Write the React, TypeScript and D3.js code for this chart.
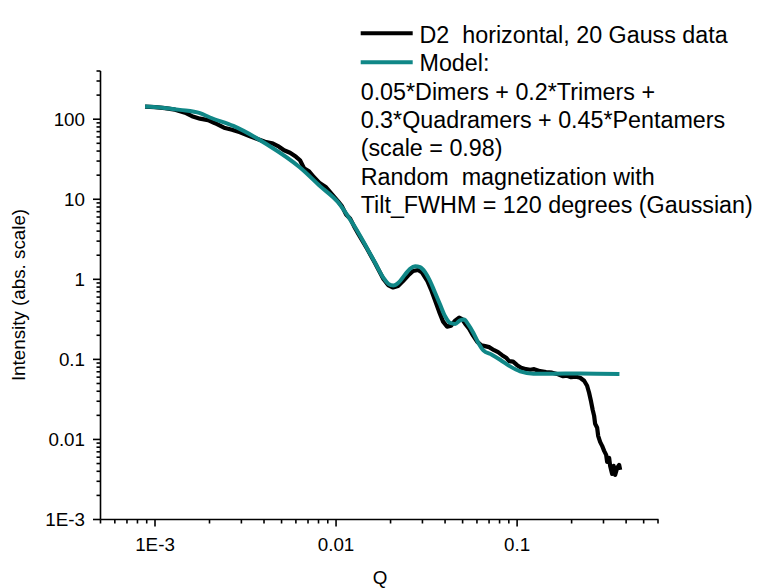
import React from "react";
import * as d3 from "d3";

// Measured data (black)
const dataQ = [
  8.81e-4, 1.0e-3, 1.136e-3, 1.29e-3, 1.464e-3, 1.601e-3, 1.772e-3, 1.963e-3, 2.145e-3, 2.405e-3,
  2.663e-3, 2.949e-3, 3.348e-3, 3.708e-3, 4.052e-3, 4.43e-3, 4.842e-3, 5.161e-3, 5.569e-3, 6.012e-3,
  6.323e-3, 6.652e-3, 7.09e-3, 7.557e-3, 8.155e-3, 8.807e-3, 9.504e-3, 0.01026, 0.01079, 0.01135,
  0.01195, 0.01258, 0.01323, 0.01478, 0.01643, 0.01826, 0.01938, 0.02065, 0.022, 0.02345,
  0.025, 0.02663, 0.02838, 0.02986, 0.03184, 0.03348, 0.03524, 0.03708, 0.03902, 0.04106,
  0.04319, 0.04545, 0.04782, 0.04967, 0.0516, 0.0543, 0.05713, 0.06012, 0.06324, 0.06653,
  0.07, 0.07462, 0.07852, 0.08261, 0.08692, 0.09032, 0.09504, 0.1, 0.1052, 0.1121,
  0.118, 0.1242, 0.134, 0.1446, 0.1561, 0.1684, 0.1795, 0.1889, 0.1987, 0.2118,
  0.2228, 0.2345, 0.2435, 0.2498, 0.2563, 0.2614, 0.2663, 0.2697, 0.2767, 0.2803,
  0.2874, 0.2948, 0.3025, 0.3103, 0.3143, 0.3224, 0.3265, 0.3349, 0.3413, 0.3479,
  0.3569, 0.3661, 0.3708,
];
const dataI = [
  143.3, 141.3, 137.3, 131.5, 120.6, 109.0, 101.5, 97.2, 89.1, 78.3,
  73.9, 68.8, 61.3, 56.2, 52.3, 50.1, 45.3, 40.9, 38.1, 33.9,
  30.7, 24.4, 22.4, 18.8, 15.8, 14.1, 11.5, 9.41, 8.15, 6.47,
  5.77, 4.58, 3.74, 2.44, 1.59, 1.009, 0.849, 0.79, 0.824, 0.952,
  1.116, 1.27, 1.307, 1.216, 0.966, 0.745, 0.543, 0.395, 0.296, 0.2566,
  0.264, 0.305, 0.3325, 0.3185, 0.2798, 0.2422, 0.198, 0.1665, 0.1505, 0.1463,
  0.1422, 0.1303, 0.123, 0.1129, 0.105, 0.0949, 0.0936, 0.0846, 0.0787, 0.0754,
  0.0743, 0.0754, 0.0712, 0.0692, 0.0682, 0.0653, 0.0616, 0.0625, 0.0599, 0.0607,
  0.059, 0.0541, 0.0469, 0.0383, 0.0295, 0.0235, 0.0197, 0.0157, 0.014, 0.0111,
  0.00933, 0.00832, 0.0072, 0.00642, 0.00524, 0.00588, 0.00467, 0.00371, 0.00467, 0.00361,
  0.00441, 0.00481, 0.00416,
];

// Model (teal)
const modelQ = [
  8.81e-4, 1.066e-3, 1.374e-3, 1.772e-3, 2.013e-3, 2.707e-3, 4.141e-3, 6.323e-3, 8.155e-3, 0.01026,
  0.01195, 0.01328, 0.01478, 0.01643, 0.01826, 0.01945, 0.02073, 0.0221, 0.02405, 0.02564,
  0.02732, 0.02911, 0.03102, 0.03306, 0.03524, 0.03755, 0.04002, 0.04264, 0.04545, 0.04843,
  0.05095, 0.05382, 0.05735, 0.06111, 0.06512, 0.07248, 0.08054, 0.09148, 0.1039, 0.1231,
  0.1522, 0.2229, 0.3674,
];
const modelI = [
  144.2, 140.1, 130.7, 118.9, 105, 82.4, 48.6, 24.9, 14.6, 9.15,
  5.6, 3.82, 2.48, 1.61, 1.044, 0.878, 0.836, 0.904, 1.148, 1.353,
  1.459, 1.417, 1.227, 0.947, 0.678, 0.484, 0.345, 0.2855, 0.2773, 0.3078,
  0.3141, 0.2718, 0.214, 0.1604, 0.1296, 0.1145, 0.0991, 0.0818, 0.0708, 0.0662,
  0.0662, 0.0668, 0.0657,
];

const xTickValues = [0.001, 0.01, 0.1];
const xTickLabels = ["1E-3", "0.01", "0.1"];
const yTickValues = [0.001, 0.01, 0.1, 1, 10, 100];
const yTickLabels = ["1E-3", "0.01", "0.1", "1", "10", "100"];

const legendSeries = ["D2  horizontal, 20 Gauss data", "Model:"];
const legendExtra = [
  "0.05*Dimers + 0.2*Trimers +",
  "0.3*Quadramers + 0.45*Pentamers",
  "(scale = 0.98)",
  "Random  magnetization with",
  "Tilt_FWHM = 120 degrees (Gaussian)",
];

const FONT = "'Liberation Sans', Arial, Helvetica, sans-serif";
const TEAL = "#108787";

export default function App() {
  const W = 759;
  const H = 588;
  const x = d3.scaleLog().domain([5e-4, 0.6]).range([100.5, 658]);
  const y = d3.scaleLog().domain([1e-3, 400]).range([519.5, 71]);

  const line = d3
    .line<[number, number]>()
    .x((d) => x(d[0]))
    .y((d) => y(d[1]));
  const dataPts: [number, number][] = dataQ.map((q, i) => [q, dataI[i]]);
  const modelPts: [number, number][] = modelQ.map((q, i) => [q, modelI[i]]);
  const modelLine = d3
    .line<[number, number]>()
    .x((d) => x(d[0]))
    .y((d) => y(d[1]))
    .curve(d3.curveMonotoneX);

  const xMinor: number[] = [];
  for (let e = -4; e <= -1; e++) {
    for (let m = 2; m <= 9; m++) {
      const v = m * Math.pow(10, e);
      if (v >= 5e-4 - 1e-12 && v <= 0.6 + 1e-9) xMinor.push(v);
    }
  }
  const yMinor: number[] = [];
  for (let e = -3; e <= 2; e++) {
    for (let m = 2; m <= 9; m++) {
      const v = m * Math.pow(10, e);
      if (v <= 400 + 1e-9) yMinor.push(v);
    }
  }

  const x0 = 100.5;
  const yBase = 519.5;

  return (
    <div style={{ position: "absolute", left: 0, top: 0 }}>
      <svg width={W} height={H} style={{ display: "block", background: "#fff" }} fontFamily={FONT}>
        <rect width={W} height={H} fill="#fff" />
        {/* data */}
        <path d={line(dataPts) || ""} fill="none" stroke="#000" strokeWidth={4.2} strokeLinejoin="round" />
        <path d={modelLine(modelPts) || ""} fill="none" stroke={TEAL} strokeWidth={4} strokeLinejoin="round" />

        {/* axes */}
        <line x1={x0} x2={x0} y1={71} y2={yBase} stroke="#000" strokeWidth={1.6} />
        <line x1={x0} x2={658.5} y1={yBase} y2={yBase} stroke="#000" strokeWidth={1.6} />
        {xMinor.map((v, i) => (
          <line key={"xm" + i} x1={x(v)} x2={x(v)} y1={yBase} y2={yBase + 4} stroke="#000" strokeWidth={1.6} />
        ))}
        {xTickValues.map((v, i) => (
          <g key={"xt" + i}>
            <line x1={x(v)} x2={x(v)} y1={yBase} y2={yBase + 7} stroke="#000" strokeWidth={1.6} />
            <text x={x(v)} y={550.5} fontSize={18.8} textAnchor="middle" fill="#000">
              {xTickLabels[i]}
            </text>
          </g>
        ))}
        {yMinor.map((v, i) => (
          <line key={"ym" + i} x1={x0 - 4} x2={x0} y1={y(v)} y2={y(v)} stroke="#000" strokeWidth={1.6} />
        ))}
        {yTickValues.map((v, i) => (
          <g key={"yt" + i}>
            <line x1={x0 - 7.5} x2={x0} y1={y(v)} y2={y(v)} stroke="#000" strokeWidth={1.6} />
            <text x={85} y={y(v) + 6.5} fontSize={18.8} textAnchor="end" fill="#000">
              {yTickLabels[i]}
            </text>
          </g>
        ))}

        {/* axis titles */}
        <text x={380} y={584} fontSize={18.8} textAnchor="middle" fill="#000">
          Q
        </text>
        <text
          transform={`translate(25,295) rotate(-90)`}
          fontSize={18.8}
          textAnchor="middle"
          fill="#000"
        >
          Intensity (abs. scale)
        </text>

        {/* legend */}
        <line x1={360.7} x2={412.7} y1={33.3} y2={33.3} stroke="#000" strokeWidth={4} />
        <line x1={360.7} x2={412.7} y1={62.3} y2={62.3} stroke={TEAL} strokeWidth={4} />
        {legendSeries.map((t, i) => (
          <text key={"ls" + i} x={419.5} y={42.7 + i * 28.43} fontSize={23.3} fill="#000" style={{ whiteSpace: "pre" }}>
            {t}
          </text>
        ))}
        {legendExtra.map((t, i) => (
          <text key={"le" + i} x={360.7} y={42.7 + (i + 2) * 28.43} fontSize={23.3} fill="#000" style={{ whiteSpace: "pre" }}>
            {t}
          </text>
        ))}
      </svg>
    </div>
  );
}
